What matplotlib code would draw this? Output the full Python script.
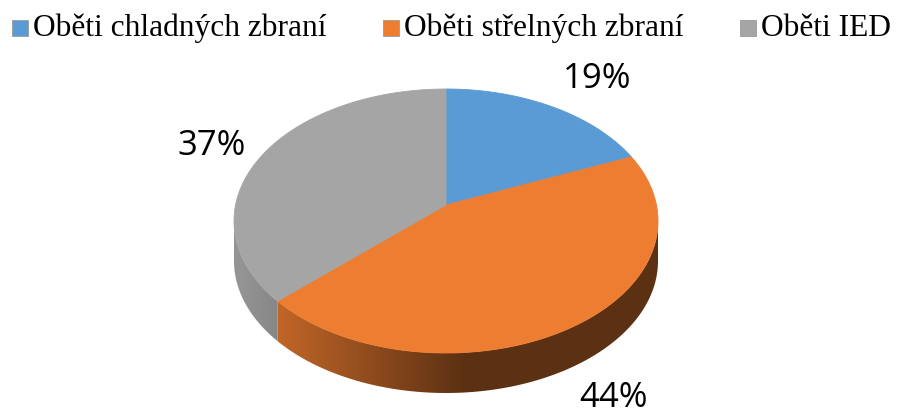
import numpy as np
import matplotlib.pyplot as plt
from matplotlib.patches import Polygon, Rectangle
from matplotlib.colors import to_rgb

labels = ['Oběti chladných zbraní', 'Oběti střelných zbraní', 'Oběti IED']
shares = [19, 44, 37]
colors = ['#5B9BD5', '#ED7D31', '#A5A5A5']

fig = plt.figure(figsize=(8.97, 4.12), dpi=100)
ax = fig.add_axes([0, 0, 1, 1])
ax.set_xlim(0, 897)
ax.set_ylim(412, 0)
ax.axis('off')

# pie geometry in pixels
cx, cy, rx, ry, depth = 446, 221, 212, 132, 40
vx, vy = 446, 205
persp = 8  # degrees, front slices look wider


def rim(t):
    t = np.radians(t)
    return cx + rx * np.cos(t), cy - ry * np.sin(t)


fr = np.array(shares) / sum(shares)
theta = 90 - 360 * np.concatenate([[0], np.cumsum(fr)])
edges = theta + persp * np.cos(np.radians(theta))

# side walls (front half only), shaded from left to right
gx = np.linspace(cx - rx - 2, cx + rx + 2, 400)
shade = np.clip(0.9 - (gx - 240) / 220 * 0.5, 0.39, 0.9)
for i in range(len(shares)):
    hi, lo = min(edges[i], 0), max(edges[i + 1], -180)
    if hi <= lo:
        continue
    t = np.linspace(hi, lo, 120)
    x, y = rim(t)
    pts = np.vstack([np.column_stack([x, y]),
                     np.column_stack([x[::-1], y[::-1] + depth])])
    poly = Polygon(pts, closed=True, facecolor='none', edgecolor='none')
    ax.add_patch(poly)
    base = np.array(to_rgb(colors[i]))
    img = (shade[:, None] * base[None, :])[None, :, :]
    im = ax.imshow(img, extent=(gx[0], gx[-1], cy + ry + depth + 2, cy - 2),
                   aspect='auto', interpolation='bilinear', zorder=1)
    im.set_clip_path(poly)

# top faces
for i in range(len(shares)):
    t = np.linspace(edges[i], edges[i + 1], 200)
    x, y = rim(t)
    pts = np.vstack([[vx, vy], np.column_stack([x, y])])
    ax.add_patch(Polygon(pts, closed=True, facecolor=colors[i],
                         edgecolor=colors[i], lw=0.6, zorder=2))

# percentage labels
label_pos = [(597, 79), (614, 398), (212, 146)]
for v, (lx, ly) in zip(shares, label_pos):
    ax.text(lx, ly, f'{v}%', fontsize=25, family='Open Sans',
            ha='center', va='center', color='black', zorder=3)

# legend
leg_x = [12, 383, 740]
for i, lab in enumerate(labels):
    ax.add_patch(Rectangle((leg_x[i], 20), 16, 16, facecolor=colors[i],
                           edgecolor='#9a9a9a', lw=0.6, zorder=3))
    ax.text(leg_x[i] + 21, 28, lab, fontsize=22.7, family='Liberation Serif',
            ha='left', va='center', color='black', zorder=3)

fig.savefig('out.png', dpi=100)
